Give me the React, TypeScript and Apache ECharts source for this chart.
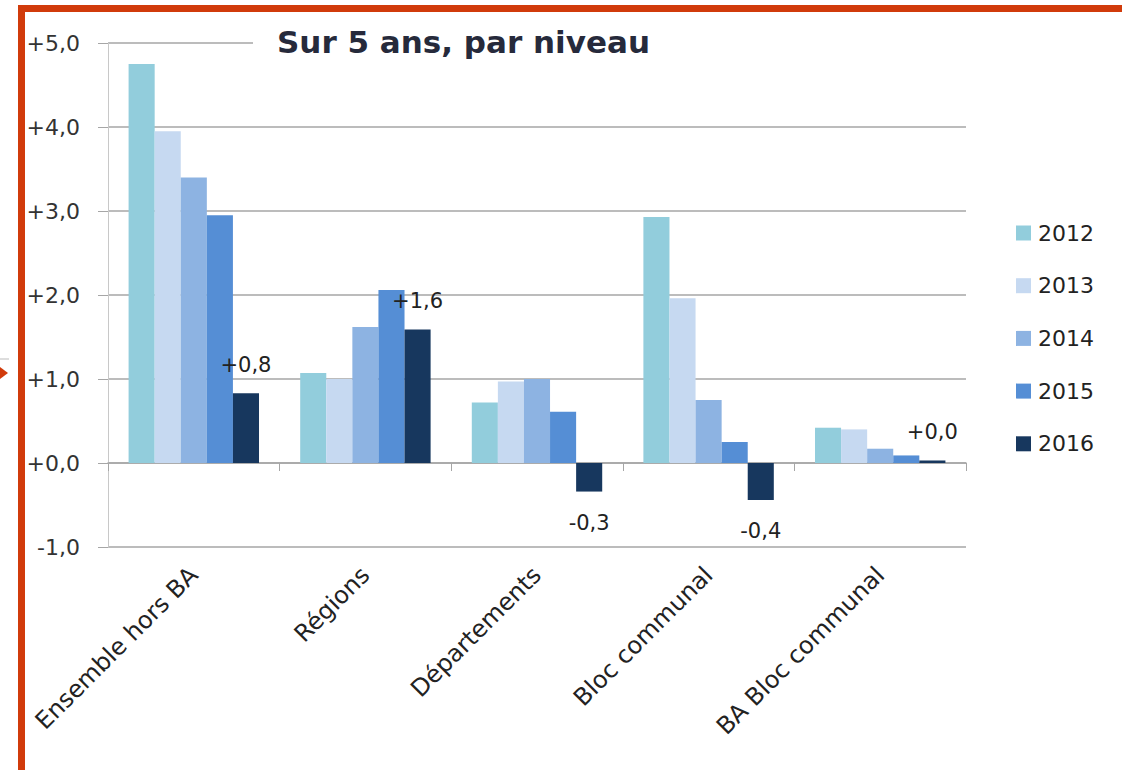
import React, { useEffect, useRef } from 'react';
import * as echarts from 'echarts';

const categories = ['Ensemble hors BA', 'Régions', 'Départements', 'Bloc communal', 'BA Bloc communal'];
const years = ['2012', '2013', '2014', '2015', '2016'];
const v2012 = [4.75, 1.07, 0.72, 2.93, 0.42];
const v2013 = [3.95, 1.0, 0.97, 1.96, 0.4];
const v2014 = [3.4, 1.62, 1.0, 0.75, 0.17];
const v2015 = [2.95, 2.06, 0.61, 0.25, 0.09];
const v2016 = [0.83, 1.59, -0.34, -0.44, 0.03];
const seriesValues = [v2012, v2013, v2014, v2015, v2016];
const colors = ['#92CDDC', '#C6D9F1', '#8DB3E2', '#558ED5', '#17375E'];
const yMin = -1;
const yMax = 5;
const yInterval = 1;
const titleText = 'Sur 5 ans, par niveau';

const fmt = (v: number) => (v < 0 ? '-' : '+') + Math.abs(v).toFixed(1).replace('.', ',');

export default function App() {
  const ref = useRef<HTMLDivElement>(null);
  useEffect(() => {
    document.body.style.margin = '0';
    const chart = echarts.init(ref.current!, null, { renderer: 'svg' });
    const font = 'DejaVu Sans';
    const series = seriesValues.map((vals, i) => {
      const isLast = i === seriesValues.length - 1;
      return {
        type: 'bar',
        name: years[i],
        xAxisIndex: 0,
        barGap: '0%',
        barCategoryGap: '24%',
        itemStyle: { color: colors[i] },
        data: vals.map((v) => ({
          value: v,
          label: isLast
            ? {
                show: true,
                position: v < 0 ? 'bottom' : 'top',
                distance: v < 0 ? 21 : 18,
                formatter: () => fmt(v),
                fontFamily: font,
                fontSize: 21,
                color: '#222',
              }
            : { show: false },
        })),
      };
    });
    chart.setOption({
      animation: false,
      backgroundColor: '#fff',
      title: {
        text: titleText,
        left: 253,
        top: 22,
        padding: [4, 460, 4, 24],
        backgroundColor: '#fff',
        textStyle: { fontFamily: 'DejaVu Sans', fontWeight: 'bold', fontSize: 31, color: '#262A3B' },
      },
      legend: {
        orient: 'vertical',
        left: 1011,
        top: 217,
        itemWidth: 15,
        itemHeight: 15,
        itemGap: 30.7,
        icon: 'rect',
        data: years,
        textStyle: { fontFamily: font, fontSize: 22, color: '#222', lineHeight: 22, padding: [0, 0, 0, 2] },
      },
      grid: { left: 108, right: 156, top: 43, bottom: 223, containLabel: false },
      xAxis: [
        {
          type: 'category',
          data: categories,
          position: 'bottom',
          axisLine: { show: true, onZero: true, lineStyle: { color: '#A6A6A6', width: 1.5 } },
          axisTick: { show: true, length: 8, lineStyle: { color: '#A6A6A6' } },
          axisLabel: { show: false },
          splitLine: { show: false },
        },
        {
          type: 'category',
          data: categories,
          position: 'bottom',
          axisLine: { show: false, onZero: false },
          axisTick: { show: false },
          axisLabel: {
            show: true,
            rotate: 45,
            margin: 24,
            fontFamily: font,
            fontSize: 24,
            color: '#222',
          },
        },
      ],
      yAxis: {
        type: 'value',
        min: yMin,
        max: yMax,
        interval: yInterval,
        axisLine: { show: true, lineStyle: { color: '#C8C8C8', width: 1 } },
        axisTick: { show: true, length: 10, lineStyle: { color: '#A6A6A6' } },
        splitLine: { show: true, lineStyle: { color: '#A6A6A6', width: 1.5 } },
        axisLabel: {
          formatter: (v: number) => fmt(v),
          fontFamily: font,
          fontSize: 22,
          color: '#333',
          margin: 28,
        },
      },
      graphic: [
        { type: 'rect', shape: { x: 18, y: 5, width: 1104, height: 7 }, style: { fill: '#D13B0B' }, z: 100 },
        { type: 'rect', shape: { x: 18, y: 5, width: 7, height: 765 }, style: { fill: '#D13B0B' }, z: 100 },
        { type: 'polygon', shape: { points: [[0, 367], [8, 373], [0, 379]] }, style: { fill: '#D13B0B' }, z: 100 },
        { type: 'line', shape: { x1: 0, y1: 359, x2: 9, y2: 359 }, style: { stroke: '#BBBBBB', lineWidth: 1 }, z: 100 },
      ],
      series,
    });
    return () => chart.dispose();
  }, []);
  return <div ref={ref} style={{ width: 1122, height: 770 }} />;
}
